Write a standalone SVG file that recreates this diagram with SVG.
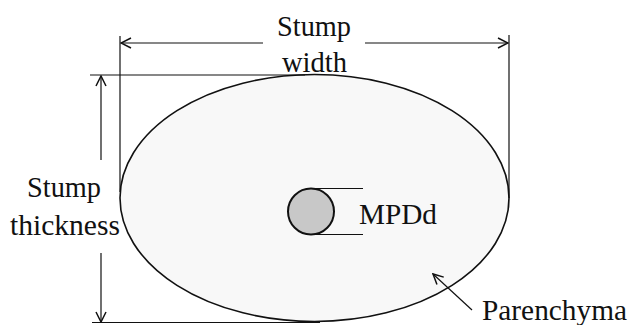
<svg xmlns="http://www.w3.org/2000/svg" width="629" height="325" viewBox="0 0 629 325">
<style>
text{font-family:"Liberation Serif","Times New Roman",serif;font-size:30px;fill:#111}
.ln{stroke:#111;stroke-width:1.2;fill:none}
</style>
<defs>
<marker id="ah" viewBox="0 0 12 12" refX="11" refY="6" markerWidth="12" markerHeight="12" markerUnits="userSpaceOnUse" orient="auto-start-reverse">
<path d="M1,1 L11,6 L1,11" fill="none" stroke="#111" stroke-width="1.5"/>
</marker>
</defs>
<rect width="629" height="325" fill="#fff"/>
<g id="stump">
<ellipse cx="314.5" cy="198" rx="194.5" ry="123.5" fill="#f8f8f8" stroke="#111" stroke-width="1.6"/>
</g>
<g id="mpdd">
<circle cx="311" cy="211.5" r="23" fill="#c8c8c8" stroke="#111" stroke-width="2"/>
<text x="359" y="224" textLength="78" lengthAdjust="spacingAndGlyphs">MPDd</text>
</g>
<g id="labels">
<text x="277" y="36" textLength="74" lengthAdjust="spacingAndGlyphs">Stump</text>
<text x="282" y="72" textLength="65" lengthAdjust="spacingAndGlyphs">width</text>
<text x="27" y="197" textLength="74" lengthAdjust="spacingAndGlyphs">Stump</text>
<text x="10" y="235" textLength="110" lengthAdjust="spacingAndGlyphs">thickness</text>
<text x="482" y="320" textLength="145" lengthAdjust="spacingAndGlyphs">Parenchyma</text>
</g>
<g id="connectors">
<line class="ln" x1="120" y1="36" x2="120" y2="192"/>
<line class="ln" x1="509" y1="35" x2="509" y2="198"/>
<line class="ln" x1="263" y1="43" x2="121" y2="43" marker-end="url(#ah)"/>
<line class="ln" x1="365" y1="43" x2="508" y2="43" marker-end="url(#ah)"/>
<line class="ln" x1="90" y1="75" x2="305" y2="75"/>
<line class="ln" x1="92" y1="322.5" x2="320" y2="322.5"/>
<line class="ln" x1="101" y1="160" x2="101" y2="76" marker-end="url(#ah)"/>
<line class="ln" x1="101" y1="253" x2="101" y2="322" marker-end="url(#ah)"/>
<line class="ln" x1="311" y1="188.5" x2="363" y2="188.5"/>
<line class="ln" x1="311" y1="234.5" x2="363" y2="234.5"/>
<line class="ln" x1="472" y1="310" x2="433" y2="274" marker-end="url(#ah)"/>
</g>
</svg>
